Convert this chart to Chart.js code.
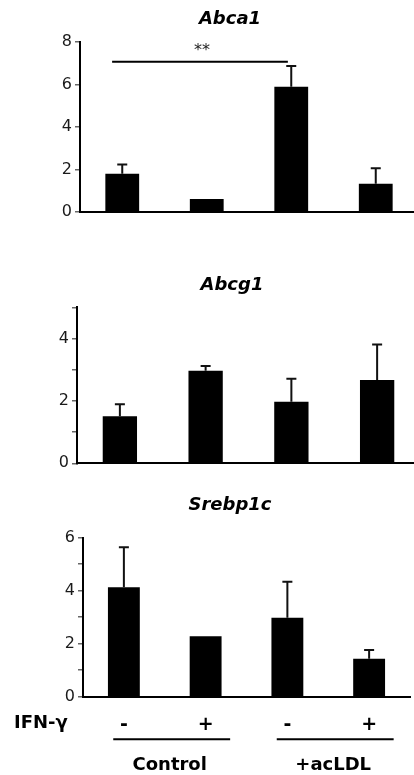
<!DOCTYPE html>
<html>
<head>
<meta charset="utf-8">
<script src="https://cdn.jsdelivr.net/npm/chart.js@4"></script>
<style>
  html, body { margin: 0; padding: 0; background: #fff; overflow: hidden; }
  body { width: 414px; height: 775px; position: relative; }
  .panel { position: absolute; left: 0; }
</style>
</head>
<body>
<canvas id="abca1" class="panel" width="430" height="230" style="top:0"></canvas>
<canvas id="abcg1" class="panel" width="430" height="230" style="top:260px"></canvas>
<canvas id="srebp1c" class="panel" width="430" height="285" style="top:490px"></canvas>
<script>
// data
const groups = ['-', '+', '-', '+'];          // IFN-γ treatment per bar
const groupNames = ['Control', '+acLDL'];

const abca1Mean = [1.80, 0.61, 5.90, 1.33];
const abca1Err = [0.43, 0, 0.97, 0.73];

const abcg1Mean = [1.51, 2.97, 1.97, 2.67];
const abcg1Err = [0.38, 0.15, 0.74, 1.14];

const srebpMean = [4.13, 2.28, 2.98, 1.43];
const srebpErr = [1.51, 0, 1.36, 0.33];

const abca1Ticks = [0, 2, 4, 6, 8];
const abcg1Ticks = [0, 2, 4];
const srebpTicks = [0, 2, 4, 6];

const FONT = 'DejaVu Sans';

// panel title (gene name), centred a bit left of the plot centre like the original
const panelTitle = {
    id: 'panelTitle',
    afterDraw(chart, args, opts) {
        const ctx = chart.ctx;
        ctx.save();
        ctx.fillStyle = '#000';
        ctx.font = 'italic bold 18px ' + FONT;
        ctx.textAlign = 'center';
        ctx.textBaseline = 'middle';
        ctx.fillText(opts.text, opts.x, opts.y);
        ctx.restore();
    }
};

// error bars (upper only)
const errorBars = {
    id: 'errorBars',
    afterDatasetsDraw(chart) {
        const ctx = chart.ctx;
        const xs = chart.scales.x, ys = chart.scales.y;
        const ds = chart.data.datasets[0];
        ctx.save();
        ctx.strokeStyle = '#111';
        ctx.lineWidth = 2;
        ds.data.forEach((v, i) => {
            const e = ds.errors[i];
            if (!e) return;
            const x = xs.getPixelForValue(i);
            const y0 = ys.getPixelForValue(v);
            const y1 = ys.getPixelForValue(v + e);
            ctx.beginPath();
            ctx.moveTo(x, y0);
            ctx.lineTo(x, y1);
            ctx.moveTo(x - 5, y1);
            ctx.lineTo(x + 5, y1);
            ctx.stroke();
        });
        ctx.restore();
    }
};

// significance bracket
const sigBars = {
    id: 'sigBars',
    afterDraw(chart, args, opts) {
        if (!opts.pairs) return;
        const ctx = chart.ctx;
        const xs = chart.scales.x, ys = chart.scales.y;
        ctx.save();
        opts.pairs.forEach(p => {
            const xa = xs.getPixelForValue(p.from - 0.12);
            const xb = xs.getPixelForValue(p.to - 0.04);
            const y = ys.getPixelForValue(p.y);
            ctx.strokeStyle = '#000';
            ctx.lineWidth = 2;
            ctx.beginPath();
            ctx.moveTo(xa, y);
            ctx.lineTo(xb, y);
            ctx.stroke();
            ctx.fillStyle = '#222';
            ctx.font = '16px ' + FONT;
            ctx.textAlign = 'center';
            ctx.textBaseline = 'middle';
            ctx.fillText(p.label, (xa + xb) / 2 + 2, y - 11);
        });
        ctx.restore();
    }
};

// IFN-γ row label, group underlines and group names
const groupLabels = {
    id: 'groupLabels',
    afterDraw(chart) {
        const ctx = chart.ctx;
        const xs = chart.scales.x;
        const base = chart.chartArea.bottom;
        ctx.save();
        ctx.fillStyle = '#000';
        ctx.font = 'bold 18px ' + FONT;
        ctx.textBaseline = 'middle';
        ctx.textAlign = 'left';
        ctx.fillText('IFN-γ', 14, base + 27);
        ctx.textAlign = 'center';
        groupNames.forEach((name, g) => {
            const xa = xs.getPixelForValue(g * 2 - 0.13);
            const xb = xs.getPixelForValue(g * 2 + 1.3);
            ctx.strokeStyle = '#000';
            ctx.lineWidth = 2;
            ctx.beginPath();
            ctx.moveTo(xa, base + 42.5);
            ctx.lineTo(xb, base + 42.5);
            ctx.stroke();
            ctx.fillText(name, (xa + xb) / 2 - 2, base + 69);
        });
        ctx.restore();
    }
};

function makePanel(id, title, means, errs, cfg) {
    return new Chart(document.getElementById(id), {
        type: 'bar',
        data: {
            labels: groups,
            datasets: [{
                data: means,
                errors: errs,
                backgroundColor: '#000',
                borderWidth: 0,
                barPercentage: cfg.barPct,
                categoryPercentage: 1
            }]
        },
        options: {
            responsive: false,
            animation: false,
            layout: { padding: cfg.padding },
            plugins: {
                legend: { display: false },
                tooltip: { enabled: false },
                title: { display: false },
                panelTitle: { text: title, x: cfg.titleX, y: cfg.titleY },
                sigBars: { pairs: cfg.sig }
            },
            scales: {
                x: {
                    grid: { display: false },
                    border: { color: '#000', width: 2 },
                    ticks: cfg.xTicks ? {
                        display: true,
                        color: '#000',
                        padding: cfg.xTicks,
                        font: { family: FONT, size: 19, weight: 'bold' }
                    } : { display: false },
                    afterFit(s) { s.height = cfg.xHeight; }
                },
                y: {
                    min: 0,
                    max: cfg.max,
                    grid: { drawOnChartArea: false, drawTicks: true, tickLength: 5, color: '#666', lineWidth: 1.5 },
                    border: { color: '#000', width: 2 },
                    ticks: {
                        stepSize: cfg.step,
                        padding: 3,
                        color: '#1a1a1a',
                        font: { family: FONT, size: 16 },
                        callback: v => cfg.labels.includes(v) ? v : ''
                    },
                    afterFit(s) { s.width = cfg.left; }
                }
            }
        },
        plugins: [panelTitle].concat(cfg.extra)
    });
}

makePanel('abca1', 'Abca1', abca1Mean, abca1Err, {
    max: 8, step: 2, labels: abca1Ticks, left: 80, barPct: 0.40,
    padding: { top: 42, right: 12, bottom: 18, left: 0 },
    titleX: 230, titleY: 19.8,
    xHeight: 0,
    sig: [{ from: 0, to: 2, y: 7.07, label: '**' }],
    extra: [errorBars, sigBars]
});

makePanel('abcg1', 'Abcg1', abcg1Mean, abcg1Err, {
    max: 5, step: 1, labels: abcg1Ticks, left: 77, barPct: 0.40,
    padding: { top: 47.3, right: 10, bottom: 26.7, left: 0 },
    titleX: 232, titleY: 25,
    xHeight: 0,
    extra: [errorBars]
});

makePanel('srebp1c', 'Srebp1c', srebpMean, srebpErr, {
    max: 6, step: 1, labels: srebpTicks, left: 83, barPct: 0.39,
    padding: { top: 47.7, right: 20, bottom: 38.3, left: 0 },
    titleX: 230, titleY: 15,
    xHeight: 40, xTicks: 9,
    extra: [errorBars, groupLabels]
});
</script>
</body>
</html>
